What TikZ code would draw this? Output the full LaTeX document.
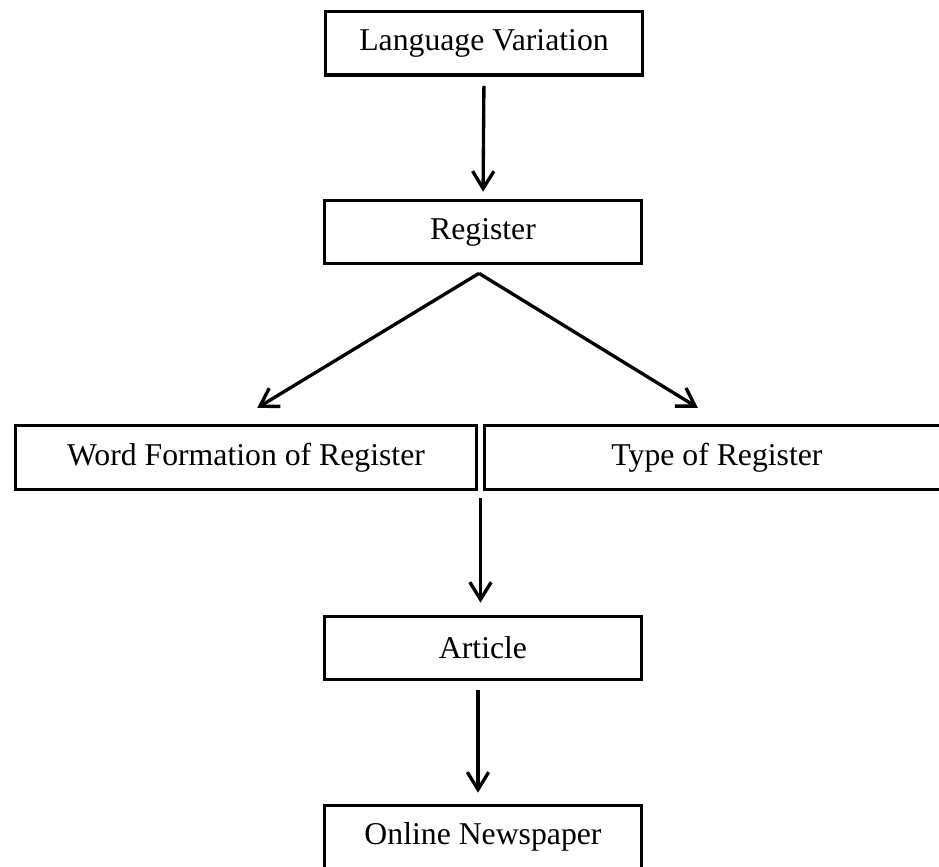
\documentclass[tikz,border=0pt]{standalone}
\usepackage{fontspec}
\setmainfont{Liberation Serif}
\usepackage{tikz}
\usetikzlibrary{positioning, arrows.meta, calc}

\begin{document}
\begin{tikzpicture}[x=0.75pt, y=-0.75pt,
          box/.style={rectangle, draw=black, line width=2.5pt, inner sep=0pt,
                      minimum width=238pt, minimum height=47.5pt,
                      font=\fontsize{23.8}{28}\selectfont, align=center},
          arr/.style={-{Straight Barb[length=13pt, width=16pt]}, line width=2.5pt}
        ]
        \clip (0,0) rectangle (939,867);

        % Top of the chain
        \node[box] (lv) at (484, 43.5) {Language Variation};
        \node[box] (reg) at (483, 232) {Register};
        \draw[arr, shorten <=6.75pt, shorten >=5.25pt] (lv.south)--(reg.north);

        % Two branches
        \node[box, minimum width=346pt, minimum height=48pt] (wf) at (246, 457.5)
              {Word Formation of Register};
        \node[box, minimum width=349pt, minimum height=48pt] (tr) at (717, 457.5)
              {Type of Register};
        \coordinate (split) at ([xshift=-3pt, yshift=-6pt]reg.south);
        \draw[arr, shorten >=23pt] (split)--([xshift=-11.25pt]wf.north);
        \draw[arr, shorten >=23pt] (split)--([xshift=5.25pt]tr.north);

        % Down to the newspaper
        \node[box] (art) at (483, 648) {Article};
        \node[box] (onl) at (483, 837) {Online Newspaper};
        \coordinate (join) at ($(wf.south east)!0.5!(tr.south west)$);
        \draw[arr, shorten <=5.25pt, shorten >=9pt] (join)--(join |- art.north);
        \draw[arr, shorten <=6.75pt, shorten >=8.25pt] ([xshift=-3.75pt]art.south)
              --([xshift=-3.75pt]onl.north);
      \end{tikzpicture}
\end{document}
